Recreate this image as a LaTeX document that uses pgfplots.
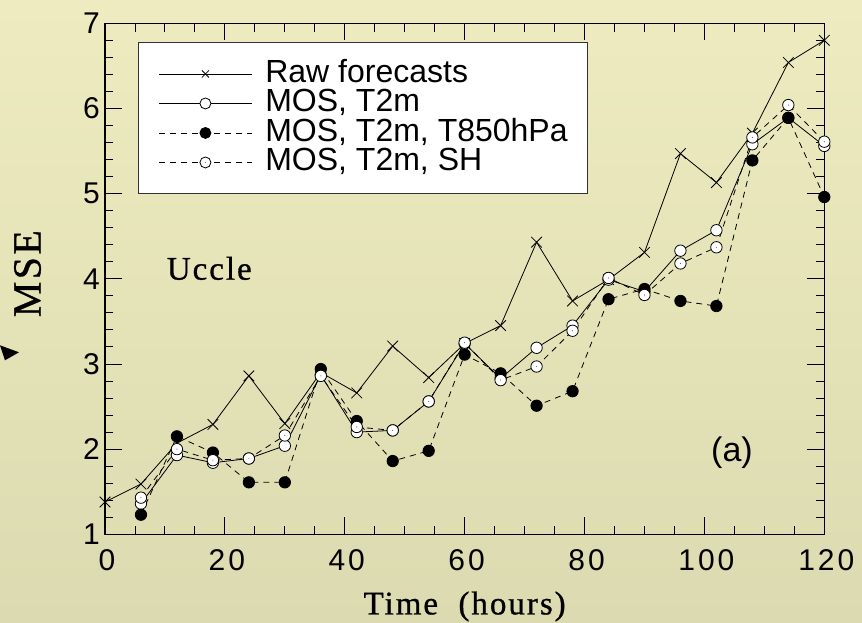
\documentclass[border=0pt]{standalone}
\usepackage{pgfplots}
\usepackage{pgfplotstable}
\pgfplotsset{compat=1.18}
\usepackage{fontspec}
\setmainfont{Liberation Serif}
\newfontfamily\arial{Liberation Sans}
\newfontfamily\ticfont[LetterSpace=10]{Liberation Sans}
\newfontfamily\labfont[LetterSpace=6, FakeBold=0.8]{Liberation Serif}
\newfontfamily\msefont[LetterSpace=6, FakeBold=0.8]{Liberation Serif}
\definecolor{bgtop}{RGB}{237,235,191}
\definecolor{bgbot}{RGB}{220,218,176}
\pgfdeclareplotmark{odot}{%
  \pgfpathcircle{\pgfpointorigin}{\pgfplotmarksize}\pgfusepathqfillstroke
  \pgfscope\pgfsetfillcolor{black!60}\pgfpathcircle{\pgfpointorigin}{0.6pt}\pgfusepathqfill\endpgfscope}

\pgfplotstableread{
x   raw  t2m  t850 sh
0   1.38 nan  nan  nan
6   1.59 1.36 1.23 1.43
12  2.07 1.93 2.15 2.00
18  2.29 1.84 1.96 1.87
24  2.86 1.89 1.61 1.89
30  2.30 2.04 1.61 2.16
36  2.90 2.87 2.94 2.86
42  2.66 2.20 2.33 2.26
48  3.21 2.22 1.86 2.22
54  2.84 2.56 1.98 2.56
60  3.24 3.24 3.11 3.25
66  3.45 2.83 2.89 2.81
72  4.43 3.19 2.51 2.97
78  3.74 3.45 2.68 3.39
84  3.99 3.99 3.76 4.01
90  4.31 3.85 3.88 3.81
96  5.47 4.33 3.74 4.18
102 5.13 4.57 3.68 4.37
108 5.71 5.58 5.39 5.66
114 6.54 5.89 5.89 6.04
120 6.80 5.56 4.96 5.61
}\data

\begin{document}
\begin{tikzpicture}
\shade[top color=bgtop, bottom color=bgbot] (-105pt,-88.7pt) rectangle (757pt,534.3pt);
\fill (-105pt,189pt) -- (-86pt,182pt) -- (-100pt,174pt) -- cycle;
\begin{axis}[
  at={(0pt,0pt)}, anchor=south west,
  scale only axis, width=719.3pt, height=511pt,
  xmin=0, xmax=120, ymin=1, ymax=7,
  xtick={0,20,...,120}, ytick={1,...,7},
  minor x tick num=3, minor y tick num=4,
  tick align=inside, tick pos=both,
  major tick length=17pt, minor tick length=8.5pt,
  every tick/.style={black, line width=0.9pt},
  axis line style={line width=1.2pt},
  ticklabel style={font=\ticfont\fontsize{30}{30}\selectfont},
  /pgf/number format/assume math mode=true,
  xticklabel style={inner sep=0pt, anchor=north, yshift=-15pt, xshift=2pt},
  yticklabel style={inner sep=0pt, anchor=east, xshift=-5pt},
  xlabel={Time\ \ (hours)}, ylabel={MSE},
  xlabel style={at={(axis description cs:0.5,0)}, anchor=north, yshift=-57pt, inner sep=0pt, font=\labfont\fontsize{33}{33}\selectfont},
  ylabel style={at={(axis description cs:-0.1077,0.51)}, anchor=center, inner sep=0pt, font=\msefont\fontsize{40}{40}\selectfont},
  clip=false,
  legend style={at={(rel axis cs:0.0459,0.963)}, anchor=north west, draw=black!80, line width=1pt, fill=white,
    inner xsep=20pt, inner ysep=16.5pt, font=\arial\fontsize{32}{32}\selectfont,
    nodes={inner sep=0pt, text height=23pt, text depth=6.5pt}, column sep=13pt},
  legend cell align=left,
  legend image code/.code={\draw[#1, mark repeat=2, mark phase=2] plot coordinates {(0pt,0pt) (46.5pt,0pt) (93pt,0pt)};},
]
\addlegendimage{black, line width=0.8pt, mark=x, mark size=5pt, mark options={solid}}
\addlegendentry{Raw forecasts}
\addlegendimage{black, line width=0.8pt, mark=*, mark size=5.5pt, mark options={fill=white, solid}}
\addlegendentry{MOS, T2m}
\addlegendimage{black, line width=0.8pt, dash pattern=on 6pt off 5pt, mark=*, mark size=5.5pt, mark options={fill=black, solid}}
\addlegendentry{MOS, T2m, T850hPa}
\addlegendimage{black, line width=0.8pt, dash pattern=on 6pt off 5pt, mark=odot, mark size=5.5pt, mark options={fill=white, solid}}
\addlegendentry{MOS, T2m, SH}

\addplot[forget plot, black, line width=0.8pt, mark=x, mark size=7.5pt, mark options={solid}] table[x=x, y=raw] {\data};
\addplot[forget plot, black, line width=0.8pt, mark=*, mark size=5.7pt, mark options={fill=white, solid}] table[x=x, y=t2m] {\data};
\addplot[forget plot, black, line width=0.8pt, dash pattern=on 6pt off 5pt, mark=*, mark size=5.7pt, mark options={fill=black, solid}] table[x=x, y=t850] {\data};
\addplot[forget plot, black, line width=0.8pt, dash pattern=on 6pt off 5pt, mark=odot, mark size=5.7pt, mark options={fill=white, solid}] table[x=x, y=sh] {\data};

\node[font=\labfont\fontsize{33}{33}\selectfont, anchor=base] at (axis cs:17.4,3.99) {Uccle};
\node[font=\arial\fontsize{34}{34}\selectfont, anchor=base] at (axis cs:104.6,1.852) {(a)};
\end{axis}
\pgfresetboundingbox
\useasboundingbox (-105pt,-88.7pt) rectangle (757pt,534.3pt);
\end{tikzpicture}
\end{document}
